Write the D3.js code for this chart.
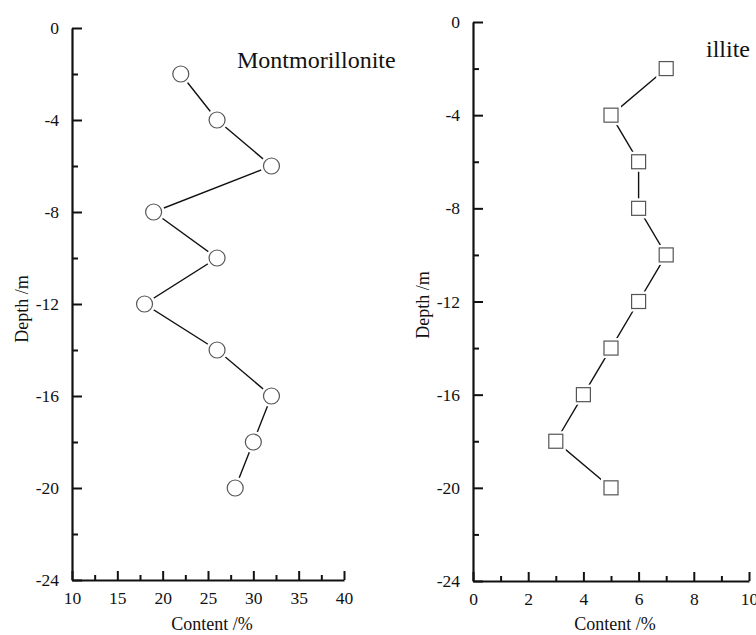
<!DOCTYPE html>
<html>
<head>
<meta charset="utf-8">
<script src="https://cdn.jsdelivr.net/npm/d3@7"></script>
<style>
  body { margin: 0; background: #fff; }
  svg, svg text { font-family: "Liberation Serif", "Times New Roman", serif; }
</style>
</head>
<body>
<div id="chart"></div>
<script>
// depth of each sample (m)
var depths = [-2, -4, -6, -8, -10, -12, -14, -16, -18, -20];
// clay mineral content (%)
var montmorillonite = [22, 26, 32, 19, 26, 18, 26, 32, 30, 28];
var illite = [7, 5, 6, 6, 7, 6, 5, 4, 3, 5];

var depthTicks = [0, -4, -8, -12, -16, -20, -24];
var depthMinor = [-2, -6, -10, -14, -18, -22];
var montTicks = [10, 15, 20, 25, 30, 35, 40];
var montMinor = [12.5, 17.5, 22.5, 27.5, 32.5, 37.5];
var illiteTicks = [0, 2, 4, 6, 8, 10];
var illiteMinor = [1, 3, 5, 7, 9];

var width = 756, height = 635;
var svg = d3.select("#chart").append("svg").attr("width", width).attr("height", height);

var fmt = function(d) { return String(d); };  // plain hyphen minus

function panel(opt) {
    var x = d3.scaleLinear().domain(opt.xDomain).range([opt.left, opt.right]);
    var y = d3.scaleLinear().domain([0, -24]).range([opt.top, opt.bottom]);
    var g = svg.append("g");

    // minor ticks
    g.append("g").attr("transform", "translate(" + opt.left + ",0)")
        .call(d3.axisLeft(y).tickValues(depthMinor).tickSize(-6).tickFormat(""))
        .call(function(s) { s.select(".domain").remove(); });
    g.append("g").attr("transform", "translate(0," + opt.bottom + ")")
        .call(d3.axisBottom(x).tickValues(opt.xMinor).tickSize(-5).tickFormat(""))
        .call(function(s) { s.select(".domain").remove(); });

    g.append("g").attr("transform", "translate(" + opt.left + ",0)")
        .call(d3.axisLeft(y).tickValues(depthTicks).tickFormat(fmt).tickSize(-10).tickSizeOuter(0).tickPadding(13));
    g.append("g").attr("transform", "translate(0," + opt.bottom + ")")
        .call(d3.axisBottom(x).tickValues(opt.xTicks).tickFormat(fmt).tickSize(-9).tickSizeOuter(0).tickPadding(12));

    g.selectAll(".tick line").attr("stroke", "#111").attr("stroke-width", 2);
    g.selectAll(".domain").attr("stroke", "#111").attr("stroke-width", 2.2);
    g.selectAll("g").attr("font-family", null);
    g.selectAll(".tick text").attr("font-size", 17.5).attr("fill", "#111")
        .style("font-family", "'Liberation Serif', serif");

    // data line
    var pts = depths.map(function(d, i) { return [opt.values[i], d]; });
    g.append("path")
        .attr("d", d3.line().x(function(d) { return x(d[0]); }).y(function(d) { return y(d[1]); })(pts))
        .attr("fill", "none").attr("stroke", "#111").attr("stroke-width", 1.4);

    // markers with white halo (gap between line and marker)
    if (opt.marker == "circle") {
        g.selectAll(".halo").data(pts).enter().append("circle")
            .attr("cx", function(d) { return x(d[0]); }).attr("cy", function(d) { return y(d[1]); })
            .attr("r", 11).attr("fill", "#fff");
        g.selectAll(".mk").data(pts).enter().append("circle")
            .attr("cx", function(d) { return x(d[0]); }).attr("cy", function(d) { return y(d[1]); })
            .attr("r", 8).attr("fill", "#fff").attr("stroke", "#555").attr("stroke-width", 1.2);
    } else {
        g.selectAll(".halo").data(pts).enter().append("rect")
            .attr("x", function(d) { return x(d[0]) - 10; }).attr("y", function(d) { return y(d[1]) - 10; })
            .attr("width", 20).attr("height", 20).attr("fill", "#fff");
        g.selectAll(".mk").data(pts).enter().append("rect")
            .attr("x", function(d) { return x(d[0]) - 7; }).attr("y", function(d) { return y(d[1]) - 7; })
            .attr("width", 14).attr("height", 14).attr("fill", "#fff").attr("stroke", "#555").attr("stroke-width", 1.2);
    }

    g.append("text").attr("x", opt.titleX).attr("y", opt.titleY)
        .attr("font-size", 24).attr("fill", "#111").text(opt.title);
    g.append("text").attr("x", opt.xLabelX).attr("y", 630).attr("text-anchor", "middle")
        .attr("font-size", 18).attr("fill", "#111").text(opt.xLabel);
    g.append("text").attr("transform", "translate(" + opt.yLabelX + "," + opt.yLabelY + ") rotate(-90)")
        .attr("text-anchor", "middle").attr("font-size", 18).attr("fill", "#111").text(opt.yLabel);
}

panel({
    xDomain: [10, 40], left: 72, right: 344, top: 28, bottom: 580,
    xTicks: montTicks, xMinor: montMinor, values: montmorillonite, marker: "circle",
    title: "Montmorillonite", titleX: 237, titleY: 68,
    xLabelX: 212, xLabel: "Content /%", yLabel: "Depth /m", yLabelX: 28, yLabelY: 309
});
panel({
    xDomain: [0, 10], left: 473, right: 749, top: 22, bottom: 581,
    xTicks: illiteTicks, xMinor: illiteMinor, values: illite, marker: "square",
    title: "illite", titleX: 706, titleY: 57,
    xLabelX: 615, xLabel: "Content  /%", yLabel: "Depth  /m", yLabelX: 429, yLabelY: 305
});
</script>
</body>
</html>
